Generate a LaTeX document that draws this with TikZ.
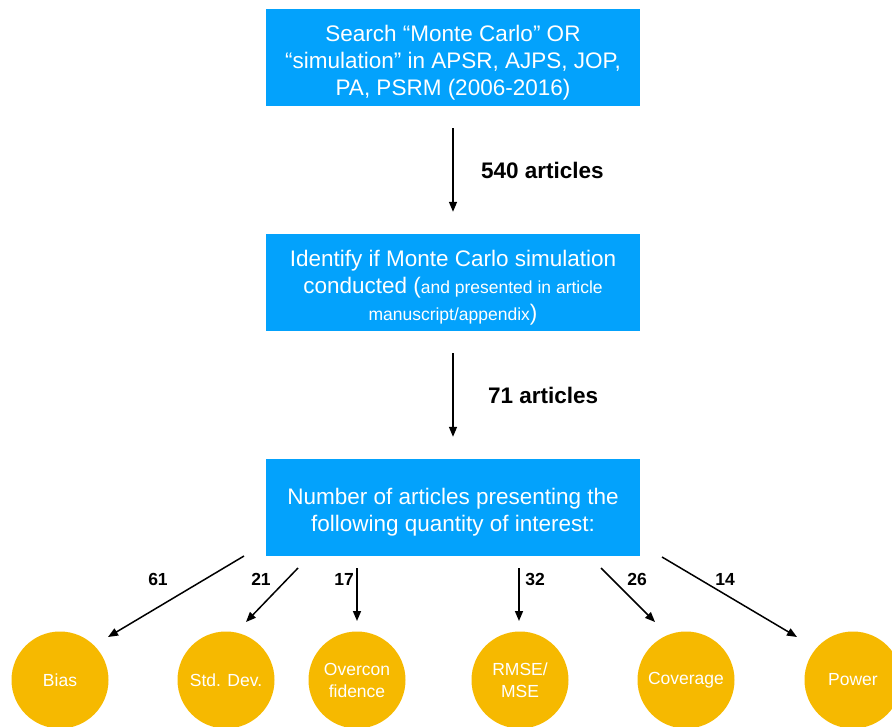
\documentclass[tikz,border=0pt]{standalone}
\usepackage{fontspec}
\setmainfont{Liberation Sans}
\usetikzlibrary{arrows.meta}
\definecolor{boxblue}{RGB}{3,162,252}
\definecolor{qoiorange}{RGB}{246,185,0}
\newcommand\aside[1]{{\fontsize{17.5}{27}\selectfont #1}}
\newcommand\lift{\rule{0pt}{26.5pt}}

\begin{document}
\begin{tikzpicture}[
  x=1pt, y=-1pt,
  box/.style={fill=boxblue, text=white, minimum width=374pt, minimum height=97pt, inner sep=0pt, align=center, font=\fontsize{22.5}{27}\selectfont},
  qoi/.style={circle, fill=qoiorange, text=white, minimum size=97pt, inner sep=0pt, align=center, font=\fontsize{17.5}{22}\selectfont},
  edge/.style={-{Triangle[length=10pt,width=8pt]}, line width=1.5pt},
  total/.style={font=\bfseries\fontsize{22.5}{25}\selectfont},
  count/.style={font=\bfseries\fontsize{17.5}{20}\selectfont},
]
\clip (0,0) rectangle (892,727);

% Steps of the search
\node[box] (search) at (453,57.5) {\lift Search “Monte Carlo” OR\\“simulation” in APSR, AJPS, JOP,\\PA, PSRM (2006-2016)};
\node[box] (identify) at (453,282.5) {\lift Identify if Monte Carlo simulation\\conducted (\aside{and presented in article}\\\aside{manuscript/appendix})};
\node[box] (number) at (453,507.5) {\lift Number of articles presenting the\\following quantity of interest:};

% Quantities of interest
\node[qoi] (bias) at (60,680) {Bias};
\node[qoi] (sd) at (226,680) {Std. Dev.};
\node[qoi] (overconf) at (357,680) {Overcon\\fidence};
\node[qoi] (rmse) at (520,680) {RMSE/\\MSE};
\node[qoi] (coverage) at (686,680) {Coverage};
\node[qoi] (power) at (853,680) {Power};

% Arrow ends below the last box
\coordinate (from61) at (244,556);  \coordinate (to61) at (108,637);
\coordinate (from21) at (298,568);  \coordinate (to21) at (246,622);
\coordinate (from17) at (357,568);  \coordinate (to17) at (357,621);
\coordinate (from32) at (519,568);  \coordinate (to32) at (519,621);
\coordinate (from26) at (601,568);  \coordinate (to26) at (655,622);
\coordinate (from14) at (662,557);  \coordinate (to14) at (797,637);

% Main flow
\draw[edge, shorten <=22pt, shorten >=22pt] (search) -- (identify) node[midway, right=24pt, total] {540 articles};
\draw[edge, shorten <=22pt, shorten >=22pt] (identify) -- (number) node[midway, right=31pt, total] {71 articles};

% Counts per quantity
\draw[edge] (from61) -- (to61);
\draw[edge] (from21) -- (to21);
\draw[edge] (from17) -- (to17);
\draw[edge] (from32) -- (to32);
\draw[edge] (from26) -- (to26);
\draw[edge] (from14) -- (to14);
\node[count] (n61) at (158,579) {61};
\node[count] (n21) at (261,579) {21};
\node[count] (n17) at (344,579) {17};
\node[count] (n32) at (535,579) {32};
\node[count] (n26) at (637,579) {26};
\node[count] (n14) at (725,579) {14};

\end{tikzpicture}
\end{document}
